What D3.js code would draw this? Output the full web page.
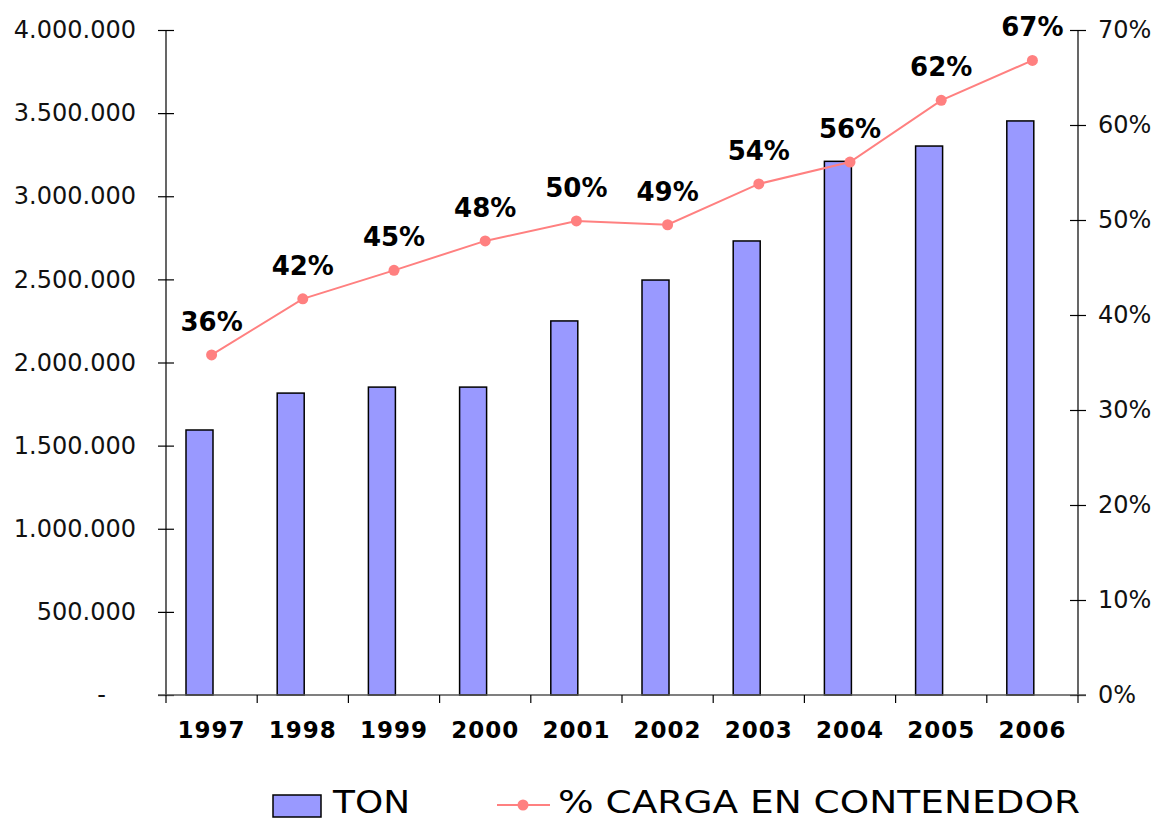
<!DOCTYPE html>
<html>
<head>
<meta charset="utf-8">
<script src="https://cdn.jsdelivr.net/npm/d3@7"></script>
<style>
  body { margin: 0; background: #fff; }
  text { font-family: "DejaVu Sans", Verdana, sans-serif; }
</style>
</head>
<body>
<script>
// chart data
const years = ["1997", "1998", "1999", "2000", "2001", "2002", "2003", "2004", "2005", "2006"];
const ton = [1594000, 1816000, 1852000, 1852000, 2250000, 2496000, 2731000, 3210000, 3302000, 3453000];
const pctContainer = [0.358, 0.417, 0.447, 0.478, 0.499, 0.495, 0.538, 0.561, 0.626, 0.668];
const pctLabels = ["36%", "42%", "45%", "48%", "50%", "49%", "54%", "56%", "62%", "67%"];
const leftTicks = [0, 500000, 1000000, 1500000, 2000000, 2500000, 3000000, 3500000, 4000000];
const rightTicks = [0, 0.1, 0.2, 0.3, 0.4, 0.5, 0.6, 0.7];
const legendNames = ["TON", "% CARGA EN CONTENEDOR"];

const width = 1157, height = 822;
const plotLeft = 166, plotRight = 1078, plotTop = 30, plotBottom = 695;

var svg = d3.select("body").append("svg")
  .attr("width", width)
  .attr("height", height);

var x = d3.scaleBand().domain(years).range([plotLeft, plotRight]);
var yL = d3.scaleLinear().domain([0, 4000000]).range([plotBottom, plotTop]);
var yR = d3.scaleLinear().domain([0, 0.7]).range([plotBottom, plotTop]);

var fmt = d3.formatLocale({decimal: ",", thousands: ".", grouping: [3], currency: ["", ""]}).format(",d");

// left axis
var gl = svg.append("g").attr("transform", `translate(${plotLeft},0)`)
  .call(d3.axisLeft(yL).tickValues(leftTicks).tickSize(8).tickFormat(d => d == 0 ? "-" : fmt(d)));
gl.selectAll(".tick line").attr("x2", 8).attr("x1", -8).attr("stroke-width", 1.2);
gl.selectAll(".tick text").attr("x", d => d == 0 ? -60 : -30)
  .style("font-size", "24px").attr("fill", "#111");
gl.select(".domain").attr("d", `M0,${plotTop}V${plotBottom}`).attr("stroke-width", 1.2);

// right axis
var gr = svg.append("g").attr("transform", `translate(${plotRight},0)`)
  .call(d3.axisRight(yR).tickValues(rightTicks).tickSize(8).tickFormat(d3.format(".0%")));
gr.selectAll(".tick line").attr("x1", -8).attr("x2", 8).attr("stroke-width", 1.2);
gr.selectAll(".tick text").attr("x", 20).style("font-size", "24px").attr("fill", "#111");
gr.select(".domain").attr("d", `M0,${plotTop}V${plotBottom}`).attr("stroke-width", 1.2);

// bars
svg.append("g").selectAll("rect")
  .data(ton)
  .enter().append("rect")
  .attr("x", (d, i) => x(years[i]) + 20)
  .attr("y", d => yL(d))
  .attr("width", 27)
  .attr("height", d => plotBottom - yL(d))
  .attr("fill", "#9999ff")
  .attr("stroke", "#000")
  .attr("stroke-width", 1.5);

// category axis
var gx = svg.append("g").attr("transform", `translate(0,${plotBottom})`);
gx.append("line").attr("x1", plotLeft - 8).attr("x2", plotRight + 8)
  .attr("stroke", "#555").attr("stroke-width", 1.5);
gx.selectAll(".xt")
  .data(years.concat(["end"]))
  .enter().append("line")
  .attr("x1", (d, i) => plotLeft + i * x.bandwidth())
  .attr("x2", (d, i) => plotLeft + i * x.bandwidth())
  .attr("y1", 0).attr("y2", 8)
  .attr("stroke", "#000").attr("stroke-width", 1.2);
gx.selectAll(".yl")
  .data(years)
  .enter().append("text")
  .attr("x", d => x(d) + x.bandwidth() / 2)
  .attr("y", 43)
  .attr("text-anchor", "middle")
  .style("font-size", "23px")
  .style("font-weight", "bold")
  .style("letter-spacing", "1px")
  .text(d => d);

// line
var line = d3.line()
  .x((d, i) => x(years[i]) + x.bandwidth() / 2)
  .y(d => yR(d));

svg.append("path")
  .datum(pctContainer)
  .attr("d", line)
  .attr("fill", "none")
  .attr("stroke", "#ff8080")
  .attr("stroke-width", 2);

svg.append("g").selectAll("circle")
  .data(pctContainer)
  .enter().append("circle")
  .attr("cx", (d, i) => x(years[i]) + x.bandwidth() / 2)
  .attr("cy", d => yR(d))
  .attr("r", 5.5)
  .attr("fill", "#ff8080");

svg.append("g").selectAll("text")
  .data(pctContainer)
  .enter().append("text")
  .attr("x", (d, i) => x(years[i]) + x.bandwidth() / 2)
  .attr("y", d => yR(d) - 24)
  .attr("text-anchor", "middle")
  .style("font-size", "26px")
  .style("font-weight", "bold")
  .text((d, i) => pctLabels[i]);

// legend
var lg = svg.append("g");
lg.append("rect")
  .attr("x", 273).attr("y", 795).attr("width", 48).attr("height", 22)
  .attr("fill", "#9999ff").attr("stroke", "#000").attr("stroke-width", 1.5);
lg.append("text")
  .attr("x", 333).attr("y", 813)
  .attr("textLength", 77).attr("lengthAdjust", "spacingAndGlyphs")
  .style("font-size", "32px")
  .text(legendNames[0]);
lg.append("line")
  .attr("x1", 497).attr("x2", 550).attr("y1", 805).attr("y2", 805)
  .attr("stroke", "#ff8080").attr("stroke-width", 2);
lg.append("circle")
  .attr("cx", 523).attr("cy", 805).attr("r", 5.5).attr("fill", "#ff8080");
lg.append("text")
  .attr("x", 558).attr("y", 813)
  .attr("textLength", 522).attr("lengthAdjust", "spacingAndGlyphs")
  .style("font-size", "32px")
  .text(legendNames[1]);
</script>
</body>
</html>
